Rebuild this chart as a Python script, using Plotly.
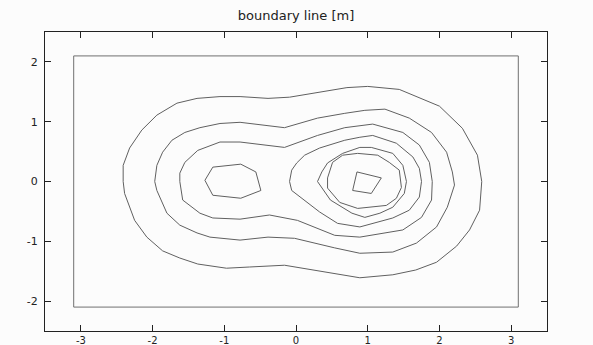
import plotly.graph_objects as go

# Rectangular boundary of the site [m]
BOUNDARY_X = [-3.1, 3.1, 3.1, -3.1, -3.1]
BOUNDARY_Y = [-2.1, -2.1, 2.1, 2.1, -2.1]

# Iso-lines, outermost first (closed polylines, coordinates in m)
LEVEL1_X = [-2.41, -2.41, -2.32, -2.15, -1.94, -1.66, -1.38, -1.06, -0.78, -0.39, -0.09, 0.19, 0.71, 1.00,
            1.44, 2.00, 2.32, 2.53, 2.59, 2.56, 2.42, 2.24, 1.96, 1.67, 1.35, 0.89, 0.36, -0.16, -0.65,
            -0.97, -1.37, -1.62, -1.86, -2.08, -2.25, -2.39]
LEVEL1_Y = [0.00, 0.27, 0.56, 0.86, 1.11, 1.31, 1.39, 1.42, 1.42, 1.39, 1.41, 1.47, 1.57, 1.59,
            1.54, 1.26, 0.89, 0.44, 0.00, -0.48, -0.81, -1.08, -1.35, -1.48, -1.56, -1.61, -1.51, -1.40,
            -1.43, -1.45, -1.38, -1.28, -1.16, -0.93, -0.65, -0.20]

LEVEL2_X = [-1.97, -1.94, -1.86, -1.73, -1.55, -1.34, -1.06, -0.78, -0.16, 0.30, 0.68, 0.96, 1.24, 1.58,
            1.89, 2.10, 2.18, 2.21, 2.11, 1.96, 1.68, 1.35, 0.89, 0.54, -0.02, -0.39, -0.78, -1.20,
            -1.38, -1.62, -1.80, -1.94]
LEVEL2_Y = [0.00, 0.27, 0.49, 0.69, 0.82, 0.90, 0.97, 0.99, 0.90, 1.06, 1.14, 1.19, 1.21, 1.06,
            0.82, 0.49, 0.16, -0.06, -0.43, -0.76, -1.03, -1.18, -1.20, -1.11, -0.95, -0.93, -0.98, -0.93,
            -0.86, -0.73, -0.53, -0.15]

LEVEL3_X = [-1.62, -1.62, -1.55, -1.37, -1.06, -0.78, -0.16, 0.30, 0.68, 1.07, 1.49, 1.72, 1.86, 1.90,
            1.89, 1.75, 1.49, 0.89, 0.54, 0.02, -0.37, -0.78, -1.16, -1.34, -1.58]
LEVEL3_Y = [0.00, 0.14, 0.32, 0.52, 0.66, 0.66, 0.57, 0.77, 0.90, 0.96, 0.82, 0.61, 0.32, 0.00,
            -0.31, -0.60, -0.81, -0.93, -0.90, -0.65, -0.56, -0.63, -0.61, -0.53, -0.31]

# Level 4 splits into a ring around each source
LEVEL4_WEST_X = [-1.27, -1.16, -0.77, -0.56, -0.49, -0.77, -1.16]
LEVEL4_WEST_Y = [0.02, 0.24, 0.29, 0.16, -0.15, -0.28, -0.23]

LEVEL4_EAST_X = [-0.09, -0.06, 0.01, 0.12, 0.33, 0.68, 0.89, 1.07, 1.40, 1.63, 1.72, 1.75, 1.72, 1.58,
                 1.35, 0.89, 0.58, 0.33, -0.06]
LEVEL4_EAST_Y = [0.00, 0.19, 0.31, 0.44, 0.56, 0.69, 0.74, 0.77, 0.64, 0.41, 0.22, 0.00, -0.26, -0.48,
                 -0.61, -0.76, -0.70, -0.51, -0.15]

LEVEL5_X = [0.30, 0.36, 0.44, 0.65, 0.89, 1.05, 1.35, 1.49, 1.54, 1.51, 1.35, 1.17, 0.96, 0.78, 0.48]
LEVEL5_Y = [0.00, 0.16, 0.31, 0.47, 0.57, 0.57, 0.47, 0.27, 0.00, -0.20, -0.43, -0.53, -0.60, -0.53, -0.31]

LEVEL6_X = [0.44, 0.51, 0.65, 0.86, 1.14, 1.30, 1.44, 1.47, 1.40, 1.26, 0.86, 0.61, 0.44]
LEVEL6_Y = [0.06, 0.32, 0.44, 0.47, 0.44, 0.32, 0.19, -0.10, -0.28, -0.40, -0.45, -0.35, -0.11]

LEVEL7_X = [0.85, 1.19, 1.05, 0.79]
LEVEL7_Y = [0.16, 0.06, -0.20, -0.15]

X_TICKS = [-3, -2, -1, 0, 1, 2, 3]
X_TICK_TEXT = ["-3", "-2", "-1", "0", "1", "2", "3"]
Y_TICKS = [-2, -1, 0, 1, 2]
Y_TICK_TEXT = ["-2", "-1", "0", "1", "2"]

ISO_LINES = [
    (LEVEL1_X, LEVEL1_Y), (LEVEL2_X, LEVEL2_Y), (LEVEL3_X, LEVEL3_Y),
    (LEVEL4_WEST_X, LEVEL4_WEST_Y), (LEVEL4_EAST_X, LEVEL4_EAST_Y),
    (LEVEL5_X, LEVEL5_Y), (LEVEL6_X, LEVEL6_Y), (LEVEL7_X, LEVEL7_Y),
]

fig = go.Figure()

fig.add_trace(go.Scatter(x=BOUNDARY_X, y=BOUNDARY_Y, mode="lines",
                         line=dict(color="#707070", width=1), hoverinfo="skip"))

for xs, ys in ISO_LINES:
    fig.add_trace(go.Scatter(x=list(xs) + [xs[0]], y=list(ys) + [ys[0]], mode="lines",
                             line=dict(color="#606060", width=1), hoverinfo="skip"))

axis_common = dict(
    showgrid=False, zeroline=False, showline=True, linecolor="#222222", linewidth=1,
    mirror="ticks", ticks="inside", ticklen=6, tickcolor="#222222", tickwidth=1,
    automargin=False,
)

fig.update_layout(
    width=593, height=345,
    margin=dict(l=45, r=46, t=32, b=14),
    paper_bgcolor="#fcfcfc", plot_bgcolor="#fcfcfc",
    showlegend=False,
    title=dict(text="boundary line [m]", x=0.5, xanchor="center", xref="paper",
               y=1 - 15 / 345, yref="container", yanchor="middle",
               font=dict(family="DejaVu Sans", size=13, color="#222222")),
    xaxis=dict(range=[-3.5, 3.5], tickvals=X_TICKS, ticktext=X_TICK_TEXT, ticklabelstandoff=0,
               tickfont=dict(family="DejaVu Sans", size=10, color="#222222"), **axis_common),
    yaxis=dict(range=[-2.5, 2.5], tickvals=Y_TICKS, ticktext=Y_TICK_TEXT, ticklabelstandoff=4,
               tickfont=dict(family="DejaVu Sans", size=11, color="#222222"), **axis_common),
)

fig.write_html("out.html")
